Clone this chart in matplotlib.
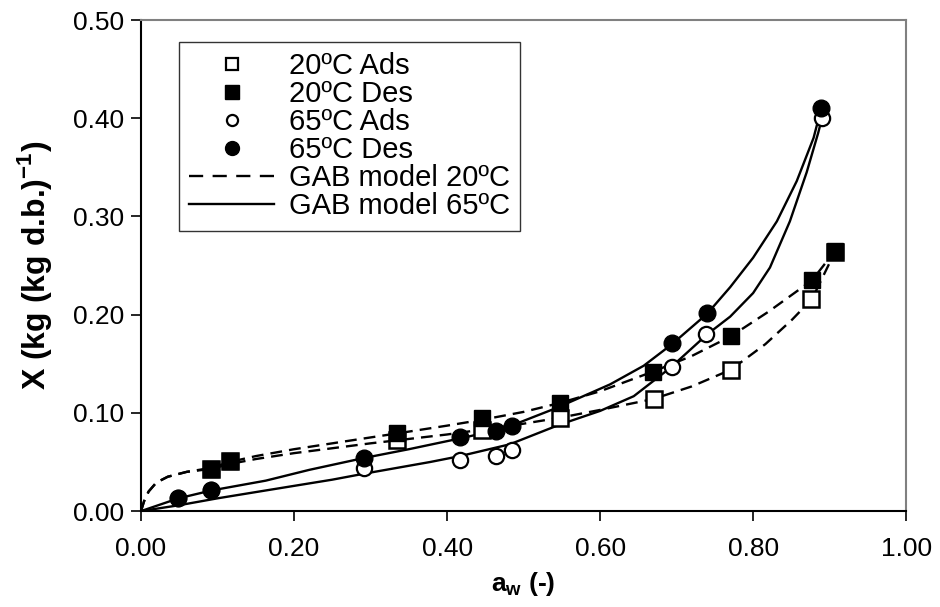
import matplotlib
matplotlib.use("Agg")
import matplotlib.pyplot as plt
from matplotlib.ticker import FormatStrFormatter, MultipleLocator

plt.rcParams["font.family"] = ["Liberation Sans", "DejaVu Sans"]
plt.rcParams["mathtext.fontset"] = "custom"
plt.rcParams["mathtext.rm"] = "Liberation Sans"
plt.rcParams["mathtext.bf"] = "Liberation Sans:bold"

# experimental points
aw_20_ads = [0.092, 0.116, 0.334, 0.446, 0.547, 0.670, 0.771, 0.876, 0.907]
x_20_ads = [0.043, 0.051, 0.072, 0.083, 0.095, 0.114, 0.144, 0.216, 0.264]
aw_20_des = [0.092, 0.116, 0.334, 0.446, 0.547, 0.669, 0.771, 0.877, 0.907]
x_20_des = [0.043, 0.051, 0.080, 0.095, 0.110, 0.142, 0.178, 0.235, 0.265]
aw_65_ads = [0.049, 0.092, 0.291, 0.417, 0.464, 0.485, 0.694, 0.739, 0.890]
x_65_ads = [0.013, 0.021, 0.044, 0.052, 0.056, 0.062, 0.147, 0.180, 0.400]
aw_65_des = [0.049, 0.092, 0.291, 0.417, 0.464, 0.485, 0.694, 0.740, 0.889]
x_65_des = [0.013, 0.021, 0.054, 0.075, 0.082, 0.087, 0.171, 0.202, 0.410]

# GAB model curves
gab20_des_aw = [0, 0.004, 0.01, 0.02, 0.035, 0.06, 0.092, 0.116, 0.15, 0.20, 0.25, 0.30, 0.334,
                0.40, 0.446, 0.50, 0.547, 0.60, 0.669, 0.72, 0.771, 0.82, 0.877, 0.907]
gab20_des_x = [0, 0.010, 0.020, 0.029, 0.035, 0.040, 0.044, 0.050, 0.056, 0.063, 0.069, 0.075, 0.079,
               0.087, 0.093, 0.101, 0.110, 0.122, 0.142, 0.158, 0.178, 0.203, 0.235, 0.265]
gab20_ads_aw = [0, 0.004, 0.01, 0.02, 0.035, 0.06, 0.092, 0.116, 0.15, 0.20, 0.25, 0.30, 0.334,
                0.40, 0.446, 0.50, 0.547, 0.60, 0.669, 0.72, 0.771, 0.816, 0.851, 0.877, 0.907]
gab20_ads_x = [0, 0.010, 0.020, 0.029, 0.035, 0.040, 0.043, 0.048, 0.053, 0.059, 0.064, 0.069, 0.072,
               0.078, 0.083, 0.089, 0.095, 0.103, 0.114, 0.127, 0.144, 0.170, 0.195, 0.216, 0.264]
gab65_des_aw = [0, 0.049, 0.092, 0.163, 0.22, 0.291, 0.35, 0.417, 0.463, 0.484, 0.543, 0.613, 0.657,
                0.694, 0.740, 0.770, 0.800, 0.831, 0.857, 0.879, 0.889]
gab65_des_x = [0, 0.013, 0.021, 0.031, 0.042, 0.054, 0.063, 0.074, 0.082, 0.087, 0.105, 0.129, 0.148,
               0.170, 0.201, 0.228, 0.258, 0.295, 0.336, 0.380, 0.410]
gab65_ads_aw = [0, 0.05, 0.10, 0.163, 0.25, 0.291, 0.378, 0.417, 0.482, 0.547, 0.60, 0.644, 0.692,
                0.740, 0.77, 0.80, 0.822, 0.848, 0.870, 0.885, 0.890]
gab65_ads_x = [0, 0.006, 0.013, 0.021, 0.032, 0.038, 0.050, 0.056, 0.068, 0.088, 0.102, 0.117, 0.146,
               0.180, 0.198, 0.222, 0.248, 0.295, 0.345, 0.385, 0.400]

fig = plt.figure(figsize=(9.4, 6.07), dpi=100)
ax = fig.add_axes([0.150, 0.158, 0.814, 0.809])

lw = 1.7
dash = (0, (5, 3))
ax.plot(gab20_des_aw, gab20_des_x, color="black", lw=lw, linestyle=dash, zorder=2)
ax.plot(gab20_ads_aw, gab20_ads_x, color="black", lw=lw, linestyle=dash, zorder=2)
ax.plot(gab65_des_aw, gab65_des_x, color="black", lw=lw, zorder=2)
ax.plot(gab65_ads_aw, gab65_ads_x, color="black", lw=lw, zorder=2)

ms = 12
ax.plot(aw_20_ads, x_20_ads, "s", ms=ms - 1, mfc="white", mec="black", mew=1.8, zorder=3)
ax.plot(aw_20_des, x_20_des, "s", ms=ms, mfc="black", mec="black", zorder=4)
ax.plot(aw_65_ads, x_65_ads, "o", ms=ms - 1, mfc="white", mec="black", mew=1.6, zorder=3)
ax.plot(aw_65_des, x_65_des, "o", ms=ms, mfc="black", mec="black", zorder=4)

# legend handles
h = [
    plt.Line2D([], [], ls="none", marker="s", ms=9, mfc="white", mec="black", mew=1.6, label="20ºC Ads"),
    plt.Line2D([], [], ls="none", marker="s", ms=10, mfc="black", mec="black", label="20ºC Des"),
    plt.Line2D([], [], ls="none", marker="o", ms=8, mfc="white", mec="black", mew=1.6, label="65ºC Ads"),
    plt.Line2D([], [], ls="none", marker="o", ms=10, mfc="black", mec="black", label="65ºC Des"),
    plt.Line2D([], [], color="black", lw=1.7, ls=(0, (6, 4)), label="GAB model 20ºC"),
    plt.Line2D([], [], color="black", lw=1.7, label="GAB model 65ºC"),
]
leg = ax.legend(handles=h, loc="upper left", bbox_to_anchor=(0.05, 0.955), fontsize=21,
                frameon=True, fancybox=False, handlelength=2.9, handletextpad=0.5,
                labelspacing=0.0, borderpad=0.35, borderaxespad=0)
leg.get_frame().set_edgecolor("black")
leg.get_frame().set_linewidth(1.0)

ax.set_xlim(0, 1.0)
ax.set_ylim(0, 0.5)
ax.xaxis.set_major_locator(MultipleLocator(0.2))
ax.yaxis.set_major_locator(MultipleLocator(0.1))
ax.xaxis.set_major_formatter(FormatStrFormatter("%.2f"))
ax.yaxis.set_major_formatter(FormatStrFormatter("%.2f"))
ax.tick_params(direction="out", length=7, width=1.2, labelsize=19)
ax.tick_params(axis="x", pad=12)
ax.tick_params(axis="y", pad=5)

for s in ["top", "right"]:
    ax.spines[s].set_color("#808080")
    ax.spines[s].set_linewidth(1.5)
for s in ["left", "bottom"]:
    ax.spines[s].set_color("black")
    ax.spines[s].set_linewidth(1.5)

ax.set_xlabel(r"a$_{\mathbf{w}}$ (-)", fontsize=19, fontweight="bold", labelpad=6)
ax.set_ylabel(r"X (kg (kg d.b.)$^{\mathbf{-1}}$)", fontsize=23, fontweight="bold", labelpad=14)

fig.savefig("out.png", dpi=100)
